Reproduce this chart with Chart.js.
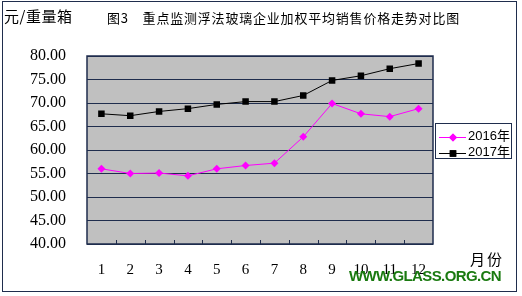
<!DOCTYPE html>
<html>
<head>
<meta charset="utf-8">
<script src="https://cdn.jsdelivr.net/npm/chart.js@4/dist/chart.umd.min.js"></script>
<style>
  html, body { margin: 0; padding: 0; background: #fff; }
  #wrap { position: relative; width: 522px; height: 296px; overflow: hidden; }
  #frame { position: absolute; left: 2px; top: 1px; width: 513px; height: 289px; border: 1.5px solid #1f2d4d; }
  canvas { position: absolute; left: 0; top: 0; }
  .txt { position: absolute; white-space: nowrap; color: #000; }
  #unit { left: 4px; top: 5px; font: 15px "Noto Sans CJK SC"; letter-spacing: 0.5px; }
  #title { left: 107px; top: 8px; font: 13px "Noto Sans CJK SC"; letter-spacing: 0.8px; }
  #month { left: 470px; top: 248px; font: 15px "Noto Sans CJK SC"; letter-spacing: 2px; }
  #mark { left: 349px; top: 267px; font: bold 15px "Liberation Sans"; color: #1a7a10; letter-spacing: -0.6px; }
  #legend { position: absolute; left: 435px; top: 123px; width: 75px; height: 34px; border: 1.5px solid #1f2d4d; background: #fff; }
  .item { position: absolute; left: 3px; height: 15px; line-height: 15px; white-space: nowrap; font: 13px "Liberation Sans", "Noto Sans CJK SC"; }
  .item canvas { position: static; vertical-align: middle; margin-right: 1px; }
</style>
</head>
<body>
<div id="wrap">
  <div id="frame"></div>
  <canvas id="chart" width="522" height="296"></canvas>
  <div class="txt" id="unit">元/重量箱</div>
  <div class="txt" id="title">图3　重点监测浮法玻璃企业加权平均销售价格走势对比图</div>
  <div class="txt" id="month">月份</div>
  <div class="txt" id="mark">WWW.GLASS.ORG.CN</div>
  <div id="legend"></div>
</div>
<script>
const months = ["1", "2", "3", "4", "5", "6", "7", "8", "9", "10", "11", "12"];
const price2016 = [56.0, 55.0, 55.1, 54.5, 56.0, 56.7, 57.2, 62.8, 69.9, 67.7, 67.1, 68.8];
const price2017 = [67.7, 67.3, 68.2, 68.8, 69.7, 70.3, 70.3, 71.6, 74.8, 75.8, 77.3, 78.4];
const seriesNames = ["2016年", "2017年"];
const seriesColors = ["#ff00ff", "#000000"];
const seriesMarkers = ["rectRot", "rect"];
const yTicks = [40, 45, 50, 55, 60, 65, 70, 75, 80];

const NAVY = "#1f2d4d";
const SERIF = "'Liberation Serif', 'DejaVu Serif', serif";

// gray plot background, frame and inward category ticks
const plotDeco = {
  id: "plotDeco",
  beforeDraw(chart) {
    const { ctx, chartArea: a } = chart;
    ctx.save();
    ctx.fillStyle = "#c0c0c0";
    ctx.fillRect(a.left, a.top, a.right - a.left, a.bottom - a.top);
    ctx.restore();
  },
  beforeDatasetsDraw(chart) {
    const { ctx, chartArea: a, scales } = chart;
    const x = scales.x;
    ctx.save();
    ctx.strokeStyle = NAVY;
    ctx.lineWidth = 1.5;
    ctx.strokeRect(a.left, a.top, a.right - a.left, a.bottom - a.top);
    ctx.lineWidth = 1;
    const step = x.getPixelForValue(1) - x.getPixelForValue(0);
    for (let i = 1; i < months.length; i++) {
      const px = Math.round(x.getPixelForValue(i) - step / 2) + 0.5;
      ctx.beginPath();
      ctx.moveTo(px, a.bottom);
      ctx.lineTo(px, a.bottom - 4);
      ctx.stroke();
    }
    ctx.restore();
  }
};

new Chart(document.getElementById("chart"), {
  type: "line",
  data: {
    labels: months,
    datasets: [price2016, price2017].map((d, i) => ({
      label: seriesNames[i],
      data: d,
      borderColor: seriesColors[i],
      backgroundColor: seriesColors[i],
      borderWidth: 1,
      pointStyle: seriesMarkers[i],
      pointRadius: i === 0 ? 4 : 4.6,
      pointBorderWidth: 0,
      tension: 0,
    })),
  },
  options: {
    responsive: false,
    animation: false,
    layout: { padding: { left: 0, right: 89, top: 56, bottom: 22 } },
    plugins: { legend: { display: false }, tooltip: { enabled: false } },
    scales: {
      x: {
        offset: true,
        grid: { display: false },
        border: { display: false },
        ticks: { color: "#000", padding: 9, font: { family: SERIF, size: 15 } },
        afterFit(s) { s.height = 30; },
      },
      y: {
        min: 40, max: 80,
        afterBuildTicks(s) { s.ticks = yTicks.map(v => ({ value: v })); },
        grid: { color: NAVY, lineWidth: 1, drawTicks: false },
        border: { display: false },
        ticks: {
          color: "#000", padding: 21,
          font: { family: SERIF, size: 16 },
          callback: v => v.toFixed(2),
        },
        afterFit(s) { s.width = 87; },
      },
    },
  },
  plugins: [plotDeco],
});

// legend with line + marker samples
const leg = document.getElementById("legend");
seriesNames.forEach((name, i) => {
  const row = document.createElement("div");
  row.className = "item";
  row.style.top = (i === 0 ? 1 : 17) + "px";
  const c = document.createElement("canvas");
  c.width = 28; c.height = 12;
  const g = c.getContext("2d");
  g.strokeStyle = seriesColors[i];
  g.fillStyle = seriesColors[i];
  g.lineWidth = 1;
  g.beginPath(); g.moveTo(0, 6.5); g.lineTo(27, 6.5); g.stroke();
  Chart.helpers.drawPoint(g, { pointStyle: seriesMarkers[i], radius: i === 0 ? 4 : 4.6, borderWidth: 0 }, 14, 6.5);
  g.fill();
  row.appendChild(c);
  row.appendChild(document.createTextNode(name));
  leg.appendChild(row);
});
</script>
</body>
</html>
